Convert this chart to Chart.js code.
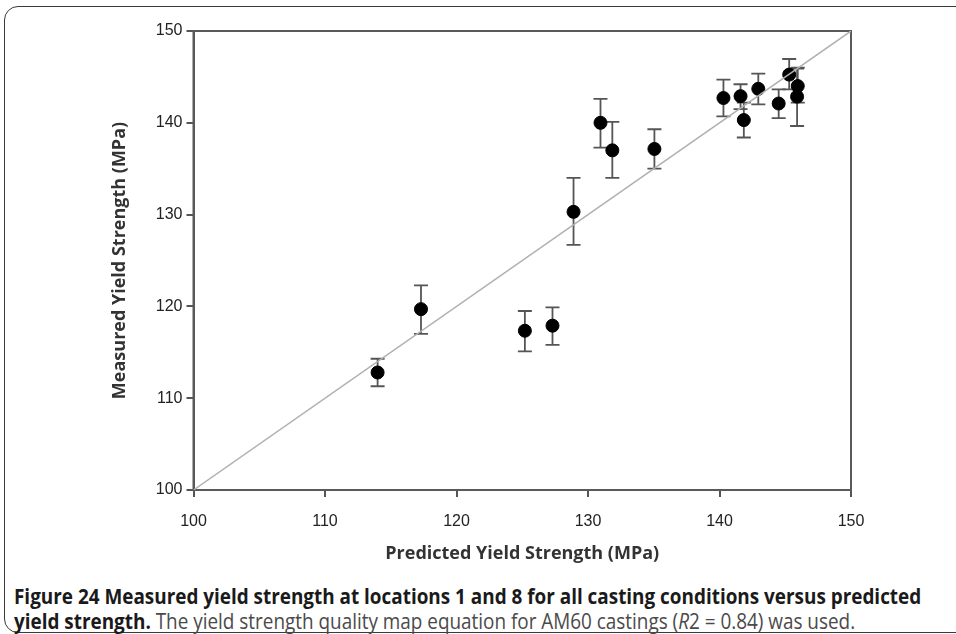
<!DOCTYPE html>
<html>
<head>
<meta charset="utf-8">
<script src="https://cdn.jsdelivr.net/npm/chart.js@4.4.1/dist/chart.umd.min.js"></script>
<style>
  body { margin: 0; background: #fff; width: 956px; height: 634px; overflow: hidden; position: relative; }
  #frame { position: absolute; left: 4px; top: 6px; width: 1000px; height: 627px; border: 1.5px solid #3a3a3a; border-radius: 14px; box-sizing: border-box; }
  #wrap { position: absolute; left: 0; top: 0; width: 956px; height: 580px; }
  .cap { position: absolute; left: 14px; white-space: nowrap; font-family: "Open Sans", sans-serif; font-size: 21px; color: #4a4a4a; transform: scaleX(0.9); transform-origin: 0 0; }
  .cap b { color: #1a1a1a; }
</style>
</head>
<body>
<div id="frame"></div>
<div id="wrap"><canvas id="myChart"></canvas></div>
<div class="cap" id="cap1" style="top:582px"><b>Figure 24 Measured yield strength at locations 1 and 8 for all casting conditions versus predicted</b></div>
<div class="cap" id="cap2" style="top:607px"><b>yield strength.</b> The yield strength quality map equation for AM60 castings (<i>R</i>2 = 0.84) was used.</div>
<script>
// predicted vs measured yield strength (MPa), with error bar ends
const predicted = [114.0, 117.3, 125.2, 127.3, 128.9, 130.95, 131.85, 135.05, 140.3, 141.6, 141.85, 142.95, 144.5, 145.3, 145.95, 145.9];
const measured  = [112.8, 119.7, 117.35, 117.9, 130.3, 140.0, 137.0, 137.15, 142.7, 142.9, 140.3, 143.7, 142.1, 145.25, 144.0, 142.85];
const errLow    = [111.3, 117.0, 115.1, 115.8, 126.7, 137.3, 134.0, 135.0, 140.7, 141.5, 138.4, 142.0, 140.5, 143.65, 142.2, 139.65];
const errHigh   = [114.3, 122.3, 119.5, 119.9, 134.0, 142.6, 140.1, 139.3, 144.7, 144.2, 142.2, 145.35, 143.65, 146.95, 146.0, 145.9];
const lineX = [100, 150];
const lineY = [100, 150];

const points = predicted.map((x, i) => ({ x: x, y: measured[i], lo: errLow[i], hi: errHigh[i] }));

// error bars and plot frame, drawn through the chart scales
const errorBars = {
  id: 'errorBars',
  beforeDatasetsDraw(chart) {
    const { ctx, chartArea, scales: { x, y } } = chart;
    ctx.save();
    ctx.strokeStyle = '#5a5a5a';
    ctx.lineWidth = 2;
    ctx.strokeRect(chartArea.left, chartArea.top, chartArea.right - chartArea.left, chartArea.bottom - chartArea.top);
    ctx.lineWidth = 1.8;
    ctx.strokeStyle = '#555';
    const cap = 7;
    points.forEach((p) => {
      const px = x.getPixelForValue(p.x);
      const top = y.getPixelForValue(p.hi);
      const bot = y.getPixelForValue(p.lo);
      ctx.beginPath();
      ctx.moveTo(px, top); ctx.lineTo(px, bot);
      ctx.moveTo(px - cap, top); ctx.lineTo(px + cap, top);
      ctx.moveTo(px - cap, bot); ctx.lineTo(px + cap, bot);
      ctx.stroke();
    });
    ctx.restore();
  }
};

const tickFont = { family: '"Liberation Sans", Arial, sans-serif', size: 16 };
const titleFont = { family: '"Open Sans", sans-serif', size: 18, weight: 'bold' };

new Chart(document.getElementById('myChart'), {
  type: 'scatter',
  data: {
    datasets: [
      {
        type: 'line',
        data: lineX.map((v, i) => ({ x: v, y: lineY[i] })),
        borderColor: '#b0b0b0',
        borderWidth: 1.5,
        pointRadius: 0,
        fill: false,
      },
      {
        data: points,
        backgroundColor: '#000',
        borderColor: '#000',
        pointRadius: 6.5,
        pointHoverRadius: 6.5,
      },
    ],
  },
  plugins: [errorBars],
  options: {
    responsive: true,
    maintainAspectRatio: false,
    animation: false,
    layout: { padding: { left: 0, right: 105, top: 31, bottom: 0 } },
    plugins: { legend: { display: false }, tooltip: { enabled: false } },
    scales: {
      x: {
        type: 'linear',
        min: 100,
        max: 150,
        afterFit: (s) => { s.height = 90; },
        ticks: { stepSize: 10, color: '#222', font: tickFont, padding: 15 },
        grid: { display: true, drawOnChartArea: false, drawTicks: true, tickLength: 7, color: '#555', lineWidth: 2 },
        border: { display: true, color: '#555', width: 2 },
        title: { display: true, text: 'Predicted Yield Strength (MPa)', color: '#333', font: titleFont, padding: { top: 0, bottom: 15 } },
      },
      y: {
        type: 'linear',
        min: 100,
        max: 150,
        afterFit: (s) => { s.width = 193.5; },
        ticks: { stepSize: 10, color: '#222', font: tickFont, padding: 4 },
        grid: { display: true, drawOnChartArea: false, drawTicks: true, tickLength: 7, color: '#555', lineWidth: 2 },
        border: { display: true, color: '#555', width: 2 },
        title: { display: true, text: 'Measured Yield Strength (MPa)', color: '#333', font: titleFont, padding: { top: 109, bottom: 0 } },
      },
    },
  },
});
</script>
</body>
</html>
